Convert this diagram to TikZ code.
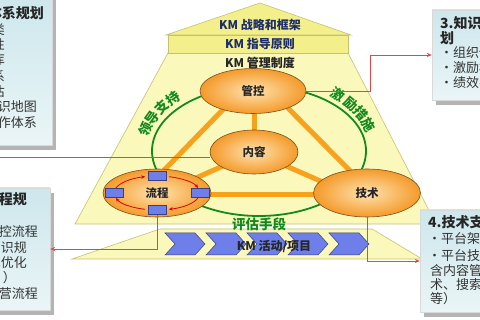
\documentclass[tikz,border=0pt]{standalone}
\usepackage{fontspec}
\setmainfont{Noto Sans CJK SC}
\usetikzlibrary{arrows.meta,shapes.geometric,shadows}
\definecolor{roofY}{HTML}{F3F08C}
\definecolor{bodyY}{HTML}{FBF8BC}
\definecolor{edgeY}{HTML}{C4C270}
\definecolor{ornL}{HTML}{FFE3B0}
\definecolor{ornD}{HTML}{F49A2A}
\definecolor{ornE}{HTML}{7A4E22}
\definecolor{ornLine}{HTML}{F7A11C}
\definecolor{grn}{HTML}{138A1E}
\definecolor{blu}{HTML}{6F7FEA}
\definecolor{bluE}{HTML}{3A3F80}
\definecolor{redL}{HTML}{E04848}
\definecolor{boxA}{HTML}{CDE7EC}
\definecolor{boxB}{HTML}{EAF5F7}
\definecolor{shad}{HTML}{B4B4B4}
\definecolor{navy}{HTML}{1C2C6C}
\begin{document}
\begin{tikzpicture}[x=1pt,y=-1pt,
  pyr/.style={draw=edgeY,line width=0.6pt},
  orb/.style={ellipse,draw=ornE,line width=0.6pt,shading=radial,inner color=ornL,outer color=ornD,
     inner sep=0pt,font=\fontsize{11.5}{13}\selectfont\bfseries,text=black!85},
  chev/.style={draw=bluE,line width=0.5pt,fill=blu},
  brect/.style={rectangle,draw=bluE,line width=0.6pt,fill=blu,minimum width=18pt,minimum height=9pt,inner sep=0pt},
  loopar/.style={draw=red!85!black,line width=0.8pt,-{Stealth[length=4pt,width=3.5pt]}},
  orl/.style={draw=ornLine,line width=5pt},
  glab/.style={font=\fontsize{13.5}{13.5}\selectfont\bfseries,text=grn,inner sep=0pt},
  rtxt/.style={font=\fontsize{12}{12}\selectfont\bfseries,inner sep=0pt},
  infobox/.style={rectangle,draw=black!15,line width=0.3pt,top color=boxA,bottom color=boxB,inner sep=0pt,
     drop shadow={shadow xshift=4pt,shadow yshift=-5pt,fill=shad,opacity=1}},
  btxt/.style={font=\fontsize{13}{13}\selectfont,text=black!80,inner sep=0pt},
  bttl/.style={font=\fontsize{14}{14}\selectfont\bfseries,text=black!85,inner sep=0pt},
  redc/.style={draw=redL,line width=0.8pt},
  redarr/.style={draw=redL,line width=0.8pt,-{Stealth[length=5pt,width=4pt]}}
]
\useasboundingbox (0,0) rectangle (480,320);
\fill[white] (0,0) rectangle (480,320);

% pyramid
\draw[pyr,fill=bodyY] (168,53) -- (348,53) -- (436,224) -- (75,224) -- cycle;
\draw[pyr,fill=roofY] (168,35) rectangle (348,53);
\draw[pyr,fill=roofY] (166,35) -- (260,3) -- (351,35) -- cycle;
\draw[pyr,fill=bodyY] (160,229) -- (372,229) -- (422,259) -- (72,259) -- cycle;

% green ring
\draw[grn,line width=1.8pt] (259,151) ellipse [x radius=107,y radius=65];

% orange frame
\coordinate (nc) at (254,152);
\draw[orl] (240,92) -- (140,195);
\draw[orl] (272,92) -- (374,195);
\draw[orl] (150,195) -- (367,195);
\draw[orl] (nc) -- (254,100);
\draw[orl] (nc) -- (185,183);
\draw[orl] (nc) -- (325,183);

% chevrons
\foreach \s in {165,206,247,288,329}
  \draw[chev] (\s,233) -- ++(30,0) -- ++(10,11) -- ++(-10,11) -- ++(-30,0) -- ++(10,-11) -- cycle;
\node[rtxt,text=black!85] (km) at (274,246) {KM 活动/项目};

% roof texts
\node[rtxt,text=navy] (t1) at (260,25) {KM 战略和框架};
\node[rtxt,text=navy] (t2) at (260,44) {KM 指导原则};
\node[rtxt,text=black!85] (t3) at (260,63) {KM 管理制度};

% ellipses
\node[orb,minimum width=106pt,minimum height=45pt] (gk) at (253,91) {管控};
\node[orb,minimum width=88pt,minimum height=44pt] (nr) at (nc) {内容};
\node[orb,minimum width=108pt,minimum height=48pt] (lc) at (157,193) {流程};
\node[orb,minimum width=107pt,minimum height=48pt] (js) at (367,193) {技术};

% loop in 流程
\foreach \a/\b in {195/254,286/343,17/74,106/163}
  \draw[loopar] ([shift={(\a:43 and 17)}]lc.center) arc[start angle=\a,end angle=\b,x radius=43,y radius=17];
\node[brect] (rt) at (157,176) {};
\node[brect] (rl) at (114,193) {};
\node[brect] (rr) at (200,193) {};
\node[brect] (rb) at (157,210) {};

% green labels
\foreach \ch [count=\i] in {领,导,支,持}{
  \pgfmathsetmacro\t{187.5+9*\i}
  \pgfmathsetmacro\r{atan2(-77*cos(\t),-118*sin(\t))}
  \node[glab,rotate=\r] (gl\i) at ({259+118*cos(\t)},{151+77*sin(\t)}) {\ch};
}
\foreach \ch [count=\i] in {激,励,措,施}{
  \pgfmathsetmacro\t{303.5+9*\i}
  \pgfmathsetmacro\r{atan2(-77*cos(\t),-118*sin(\t))}
  \node[glab,rotate=\r] (gr\i) at ({259+117*cos(\t)},{151+76*sin(\t)}) {\ch};
}
\node[glab] (pg) at (259,224) {评估手段};

% info boxes
\node[infobox,minimum width=72pt,minimum height=150pt] (box1) at (16,70) {};
\node[infobox,minimum width=70pt,minimum height=122pt] (box2) at (15,249) {};
\node[infobox,minimum width=78pt,minimum height=90pt] (box3) at (471,55) {};
\node[infobox,minimum width=90pt,minimum height=102pt] (box4) at (465,261) {};

% box 1 text
\node[bttl,anchor=east] (b1t) at (44,13) {1.内容体系规划};
\node[btxt,anchor=east] (b1a) at (5,30) {·知识分类};
\node[btxt,anchor=east] (b1b) at (5,45) {·知识属性};
\node[btxt,anchor=east] (b1c) at (5,60) {·知识仓库};
\node[btxt,anchor=east] (b1d) at (5,77) {·知识体系};
\node[btxt,anchor=east] (b1e) at (5,92) {·知识评估};
\node[btxt,anchor=east] (b1f) at (37,107) {·知识地图};
\node[btxt,anchor=east] (b1g) at (37,123) {·协作体系};

% box 2 text
\node[bttl,anchor=east] (b2t) at (27,199) {2.流程规};
\node[btxt,anchor=east] (b2a) at (38,232) {·管控流程};
\node[btxt,anchor=east] (b2b) at (27,248) {·知识规};
\node[btxt,anchor=east] (b2c) at (27,263) {范优化};
\node[btxt,anchor=east] (b2d) at (16,278) {）};
\node[btxt,anchor=east] (b2e) at (38,294) {·运营流程};

% box 3 text
\node[bttl,anchor=west] (b3t) at (440,23) {3.知识管理规};
\node[bttl,anchor=west] (b3u) at (440,38) {划};
\node[btxt,anchor=west] (b3a) at (440,53) {·组织保障};
\node[btxt,anchor=west] (b3b) at (440,68) {·激励机制};
\node[btxt,anchor=west] (b3c) at (440,83) {·绩效考核};

% box 4 text
\node[bttl,anchor=west] (b4t) at (428,222) {4.技术支持规划};
\node[btxt,anchor=west] (b4a) at (428,239) {·平台架构};
\node[btxt,anchor=west] (b4b) at (428,256) {·平台技术（包};
\node[btxt,anchor=west] (b4c) at (430,271) {含内容管理技};
\node[btxt,anchor=west] (b4d) at (430,285) {术、搜索技术};
\node[btxt,anchor=west] (b4e) at (430,299) {等）};

% red connectors
\coordinate (c1) at (-10,157);
\coordinate (c3) at (370,55);
\draw[redc] (c1) -- (c1 -| nr.west);
\draw[redarr] (rb.south) |- (box2.east);
\draw[redc] (gk.east) -| (c3);
\draw[redarr] (c3) -- (box3.west);
\draw[redarr] (js.south) |- (box4.west);
\end{tikzpicture}
\end{document}
